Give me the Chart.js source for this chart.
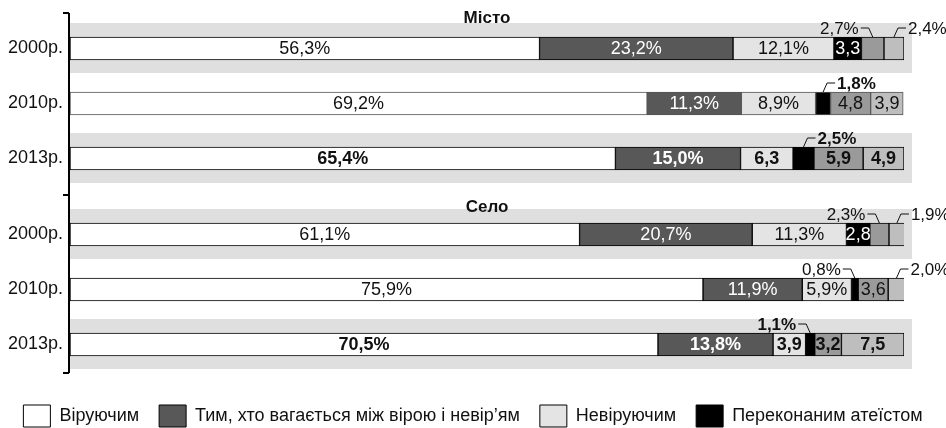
<!DOCTYPE html>
<html lang="uk">
<head>
<meta charset="utf-8">
<title>Віра: місто і село</title>
<script src="https://cdn.jsdelivr.net/npm/chart.js@4.4.1/dist/chart.umd.min.js"></script>
<style>
  html, body { margin: 0; padding: 0; background: #fff; overflow: hidden; }
  canvas { display: block; }
</style>
</head>
<body>
<canvas id="cityChart" width="946" height="196"></canvas>
<canvas id="villageChart" width="946" height="241"></canvas>
<script>
const years = ['2000р.', '2010р.', '2013р.'];
const groupTitles = ['Місто', 'Село'];
const seriesNames = ['Віруючим', 'Тим, хто вагається між вірою і невір’ям', 'Невіруючим', 'Переконаним атеїстом', '', ''];

// first three values: Місто (2000, 2010, 2013), last three: Село
const believers    = [56.3, 69.2, 65.4, 61.1, 75.9, 70.5];
const hesitant     = [23.2, 11.3, 15.0, 20.7, 11.9, 13.8];
const nonBelievers = [12.1,  8.9,  6.3, 11.3,  5.9,  3.9];
const atheists     = [ 3.3,  1.8,  2.5,  2.8,  0.8,  1.1];
const otherA       = [ 2.7,  4.8,  5.9,  2.3,  3.6,  3.2];
const otherB       = [ 2.4,  3.9,  4.9,  1.9,  2.0,  7.5];

const allSeries = [believers, hesitant, nonBelievers, atheists, otherA, otherB];
const colors = ['#ffffff', '#585858', '#e4e4e4', '#000000', '#9a9a9a', '#bebebe'];
const textColors = ['#111', '#fff', '#111', '#fff', '#111', '#111'];
// c% = inside with %, c = inside without %, L / R = callout above left / right, * = bold
const labelModes = [
  ['c%', 'c%', 'c%', 'c%', 'c%', 'c%'],
  ['c%', 'c%', 'c%', 'c%', 'c%', 'c%'],
  ['c%', 'c%', 'c',  'c%', 'c%', 'c' ],
  ['c',  'R*', 'R',  'c',  'L',  'L' ],
  ['L',  'c',  'c',  'L',  'c',  'c' ],
  ['R',  'c',  'c',  'R',  'R',  'c' ]
];

Chart.defaults.font.family = "'Liberation Sans', Arial, Helvetica, sans-serif";

function fmt(v) {
  return v.toFixed(1).replace('.', ',');
}

/* grey bands behind 2000 and 2013 rows */
const rowBands = {
  id: 'rowBands',
  beforeDatasetsDraw(chart, args, opts) {
    const { ctx, chartArea, scales: { y } } = chart;
    ctx.save();
    ctx.fillStyle = opts.color;
    opts.rows.forEach(i => {
      const cy = y.getPixelForValue(i);
      ctx.fillRect(chartArea.left, cy - 25.5, chartArea.right - chartArea.left + 8, 50);
    });
    ctx.restore();
  }
};

/* values inside bars + callouts for thin segments */
const segmentLabels = {
  id: 'segmentLabels',
  afterDatasetsDraw(chart, args, opts) {
    const { ctx } = chart;
    ctx.save();
    chart.data.datasets.forEach((ds, di) => {
      const meta = chart.getDatasetMeta(di);
      meta.data.forEach((bar, i) => {
        const mode = ds.labelModes[i];
        const bold = i === opts.boldRow || mode.endsWith('*');
        const cx = (bar.x + bar.base) / 2;
        const top = bar.y - bar.height / 2;
        const v = ds.data[i];
        ctx.textBaseline = 'middle';
        if (mode[0] === 'c') {
          ctx.font = (bold ? 'bold ' : '') + '18px ' + Chart.defaults.font.family;
          ctx.fillStyle = ds.labelColor;
          ctx.textAlign = 'center';
          ctx.fillText(fmt(v) + (mode.includes('%') ? '%' : ''), cx, bar.y + 1);
          return;
        }
        const dir = mode[0] === 'L' ? -1 : 1;
        ctx.strokeStyle = '#111';
        ctx.lineWidth = 1;
        ctx.beginPath();
        ctx.moveTo(cx, top);
        ctx.lineTo(cx + dir * 4, top - 9);
        ctx.lineTo(cx + dir * 12, top - 9);
        ctx.stroke();
        ctx.font = (bold ? 'bold ' : '') + '17px ' + Chart.defaults.font.family;
        ctx.fillStyle = '#111';
        ctx.textAlign = dir < 0 ? 'right' : 'left';
        ctx.fillText(fmt(v) + '%', cx + dir * 14, top - 8);
      });
    });
    ctx.restore();
  }
};

const groupTitle = {
  id: 'groupTitle',
  afterDraw(chart, args, opts) {
    const { ctx, chartArea } = chart;
    ctx.save();
    ctx.font = 'bold 17px ' + Chart.defaults.font.family;
    ctx.fillStyle = '#111';
    ctx.textAlign = 'center';
    ctx.textBaseline = 'middle';
    ctx.fillText(opts.text, (chartArea.left + chartArea.right) / 2, chartArea.top + opts.dy);
    ctx.restore();
  }
};

/* left axis line with end ticks, continuous across both charts */
const sideAxis = {
  id: 'sideAxis',
  afterDraw(chart, args, opts) {
    const { ctx, chartArea } = chart;
    const x = chartArea.left - 2;
    const y0 = opts.first ? chartArea.top - 8 : 0;
    const y1 = opts.first ? chart.height : chartArea.bottom + 1;
    ctx.save();
    ctx.fillStyle = '#000';
    ctx.fillRect(x, y0, 2, y1 - y0);
    const ticks = opts.first ? [y0, y1 - 1] : [y1];
    ticks.forEach(t => ctx.fillRect(x - 5, t - 1, 6, 2));
    ctx.restore();
  }
};

function buildDatasets(part) {
  const from = part * 3;
  return allSeries.map((vals, k) => ({
    label: seriesNames[k],
    data: vals.slice(from, from + 3),
    backgroundColor: colors[k],
    borderColor: c => (part === 0 && c.dataIndex === 1) ? '#555' : '#000',
    borderWidth: 1,
    borderSkipped: false,
    barThickness: 23,
    labelModes: labelModes[k].slice(from, from + 3),
    labelColor: textColors[k]
  }));
}

function makeChart(id, part) {
  const last = part === 1;
  return new Chart(document.getElementById(id), {
    type: 'bar',
    data: { labels: years, datasets: buildDatasets(part) },
    options: {
      indexAxis: 'y',
      responsive: false,
      animation: false,
      layout: {
        autoPadding: false,
        padding: last ? { top: 11, right: 0, bottom: 0, left: 0 } : { top: 21, right: 0, bottom: 10, left: 0 }
      },
      scales: {
        x: {
          stacked: true, min: 0, max: 100, display: last,
          grid: { display: false }, border: { display: false }, ticks: { display: false },
          afterFit: s => { if (last) s.height = 13; }
        },
        y: {
          stacked: true,
          grid: { display: false, drawTicks: false },
          border: { display: false },
          ticks: { color: '#111', font: { size: 18 }, padding: 7 },
          afterFit: s => {
            s.width = 70;
            s.paddingTop = 0;
            s.paddingBottom = 0;
          }
        },
        rightPad: {
          type: 'linear', position: 'right', display: true,
          grid: { display: false, drawTicks: false }, border: { display: false }, ticks: { display: false },
          afterFit: s => { s.width = 42; }
        }
      },
      plugins: {
        legend: {
          display: last,
          position: 'bottom',
          labels: {
            boxWidth: 27, boxHeight: 22, padding: 20, color: '#111',
            font: { size: 18 },
            filter: item => item.text !== ''
          }
        },
        tooltip: { enabled: false },
        rowBands: { rows: [0, 2], color: '#dfdfdf' },
        segmentLabels: { boldRow: 2 },
        groupTitle: { text: groupTitles[part], dy: last ? 0 : -3 },
        sideAxis: { first: !last }
      }
    },
    plugins: [rowBands, segmentLabels, groupTitle, sideAxis]
  });
}

makeChart('cityChart', 0);
makeChart('villageChart', 1);
</script>
</body>
</html>
